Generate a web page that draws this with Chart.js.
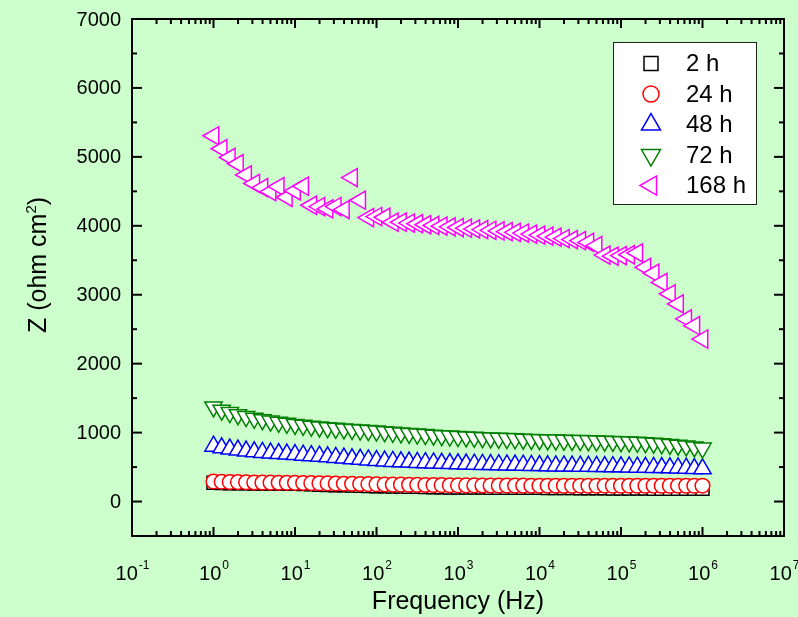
<!DOCTYPE html>
<html>
<head>
<meta charset="utf-8">
<script src="https://cdn.jsdelivr.net/npm/chart.js@4/dist/chart.umd.min.js"></script>
<style>
  html, body { margin: 0; padding: 0; background: #CCFFCC; }
  #wrap { width: 798px; height: 617px; }
</style>
</head>
<body>
<div id="wrap"><canvas id="c" width="798" height="617"></canvas></div>
<script>
// Measurement frequencies (Hz), 10 points per decade from 1 Hz to 1 MHz
const frequency = [
  1, 1.259, 1.585, 1.995, 2.512, 3.162, 3.981, 5.012, 6.310, 7.943,
  10, 12.59, 15.85, 19.95, 25.12, 31.62, 39.81, 50.12, 63.10, 79.43,
  100, 125.9, 158.5, 199.5, 251.2, 316.2, 398.1, 501.2, 631.0, 794.3,
  1000, 1259, 1585, 1995, 2512, 3162, 3981, 5012, 6310, 7943,
  10000, 12590, 15850, 19950, 25120, 31620, 39810, 50120, 63100, 79430,
  100000, 125900, 158500, 199500, 251200, 316200, 398100, 501200, 631000, 794300,
  1000000
];

// Impedance modulus Z (ohm cm2) after each immersion time
const z2h = [
  271, 268, 266, 265, 264, 263, 262, 261, 260, 258,
  257, 253, 249, 245, 241, 238, 235, 232, 229, 226,
  223, 221, 219, 217, 215, 213, 211, 209, 207, 205,
  203, 203, 202, 202, 201, 201, 200, 200, 200, 199,
  199, 198, 197, 196, 195, 194, 193, 192, 191, 190,
  189, 189, 188, 188, 187, 187, 186, 186, 185, 185,
  184
];
const z24h = [
  290, 286, 283, 281, 279, 277, 276, 274, 273, 272,
  271, 269, 267, 265, 263, 261, 259, 257, 255, 252,
  250, 248, 246, 245, 243, 242, 240, 239, 238, 236,
  235, 234, 234, 233, 233, 232, 232, 231, 231, 230,
  230, 230, 230, 229, 229, 230, 229, 229, 230, 229,
  229, 230, 229, 229, 230, 229, 229, 230, 229, 229,
  230
];
const z48h = [
  802, 780, 762, 746, 733, 722, 712, 703, 695, 688,
  681, 673, 665, 657, 649, 640, 630, 620, 612, 603,
  594, 588, 582, 577, 572, 567, 563, 559, 555, 551,
  547, 544, 541, 539, 536, 534, 531, 529, 527, 524,
  521, 519, 517, 516, 514, 512, 511, 509, 507, 505,
  503, 501, 499, 497, 495, 493, 490, 487, 484, 479,
  474
];
const z72h = [
  1373, 1325, 1290, 1260, 1232, 1208, 1187, 1168, 1150, 1134,
  1118, 1105, 1093, 1082, 1072, 1062, 1053, 1045, 1037, 1029,
  1022, 1013, 1004, 995, 987, 979, 971, 963, 956, 949,
  942, 937, 932, 927, 922, 917, 913, 909, 905, 901,
  897, 894, 891, 888, 886, 884, 881, 878, 875, 872,
  868, 864, 859, 853, 846, 838, 829, 818, 806, 792,
  776
];
const z168h = [
  5306, 5118, 4992, 4900, 4738, 4615, 4554, 4496, 4569, 4414,
  4506, 4574, 4298, 4279, 4245, 4279, 4235, 4699, 4371, 4119,
  4134, 4124, 4052, 4052, 4040, 4030, 4015, 4005, 3995, 3985,
  3975, 3965, 3955, 3945, 3935, 3925, 3915, 3905, 3895, 3880,
  3865, 3850, 3835, 3815, 3800, 3784, 3759, 3711, 3575, 3560,
  3568, 3580, 3607, 3397, 3312, 3179, 3012, 2867, 2650, 2551,
  2357
];

const seriesLabels = ['2 h', '24 h', '48 h', '72 h', '168 h'];
const yTickValues = [0, 1000, 2000, 3000, 4000, 5000, 6000, 7000];
const xDecades = [-1, 0, 1, 2, 3, 4, 5, 6, 7];

const FONT = '"Liberation Sans", Arial, Helvetica, sans-serif';
const BG = '#CCFFCC';

const styles = [
  { style: 'rect',     rot: 0,   r: 9.2,  color: '#000000' },
  { style: 'circle',   rot: 0,   r: 7.3,  color: '#FF0000' },
  { style: 'triangle', rot: 0,   r: 10,   color: '#0000FF' },
  { style: 'triangle', rot: 180, r: 10,   color: '#008000' },
  { style: 'triangle', rot: 270, r: 10.5, color: '#FF00FF' }
];
const seriesValues = [z2h, z24h, z48h, z72h, z168h];

const datasets = seriesValues.map((vals, k) => ({
  label: seriesLabels[k],
  data: frequency.map((f, i) => ({ x: f, y: vals[i] })),
  showLine: false,
  pointStyle: styles[k].style,
  pointRotation: styles[k].rot,
  pointRadius: styles[k].r,
  pointBorderColor: styles[k].color,
  pointBackgroundColor: '#FFFFFF',
  pointBorderWidth: 1.5,
  order: 5 - k
}));

function drawMarker(ctx, s, x, y) {
  ctx.beginPath();
  if (s.style === 'rect') {
    const h = 7;
    ctx.rect(x - h, y - h, 2 * h, 2 * h);
  } else if (s.style === 'circle') {
    ctx.arc(x, y, 8, 0, Math.PI * 2);
  } else {
    let rad = s.rot * Math.PI / 180;
    const r = 11;
    ctx.moveTo(x + Math.sin(rad) * r, y - Math.cos(rad) * r);
    rad += 2 * Math.PI / 3;
    ctx.lineTo(x + Math.sin(rad) * r, y - Math.cos(rad) * r);
    rad += 2 * Math.PI / 3;
    ctx.lineTo(x + Math.sin(rad) * r, y - Math.cos(rad) * r);
    ctx.closePath();
  }
  ctx.fillStyle = '#FFFFFF';
  ctx.fill();
  ctx.lineWidth = 1.5;
  ctx.strokeStyle = s.color;
  ctx.stroke();
}

function line(ctx, x1, y1, x2, y2) {
  ctx.beginPath();
  ctx.moveTo(x1, y1);
  ctx.lineTo(x2, y2);
  ctx.stroke();
}

const background = {
  id: 'background',
  beforeDraw(chart) {
    const ctx = chart.ctx;
    ctx.save();
    ctx.fillStyle = BG;
    ctx.fillRect(0, 0, chart.width, chart.height);
    ctx.restore();
  }
};

const axesFrame = {
  id: 'axesFrame',
  afterDatasetsDraw(chart) {
    const ctx = chart.ctx;
    const a = chart.chartArea;
    const xs = chart.scales.x, ys = chart.scales.y;
    ctx.save();
    ctx.strokeStyle = '#000';
    ctx.lineWidth = 2;
    ctx.lineCap = 'butt';

    // frame
    ctx.strokeRect(a.left, a.top, a.right - a.left, a.bottom - a.top);

    // y ticks (inward, mirrored on right)
    for (let k = 0; k < yTickValues.length; k++) {
      const v = yTickValues[k];
      const y = ys.getPixelForValue(v);
      line(ctx, a.left, y, a.left + 10, y);
      line(ctx, a.right, y, a.right - 10, y);
      if (k < yTickValues.length - 1) {
        const ym = ys.getPixelForValue((v + yTickValues[k + 1]) / 2);
        line(ctx, a.left, ym, a.left + 5, ym);
        line(ctx, a.right, ym, a.right - 5, ym);
      }
    }

    // x ticks (inward, mirrored on top), log decades with 2..9 minors
    for (let d = 0; d < xDecades.length; d++) {
      const base = Math.pow(10, xDecades[d]);
      const x = xs.getPixelForValue(base);
      line(ctx, x, a.bottom, x, a.bottom - 9);
      line(ctx, x, a.top, x, a.top + 9);
      if (d < xDecades.length - 1) {
        for (let m = 2; m <= 9; m++) {
          const xm = xs.getPixelForValue(base * m);
          line(ctx, xm, a.bottom, xm, a.bottom - 5);
          line(ctx, xm, a.top, xm, a.top + 5);
        }
      }
    }

    // y tick labels
    ctx.fillStyle = '#000';
    ctx.font = '20px ' + FONT;
    ctx.textAlign = 'right';
    ctx.textBaseline = 'middle';
    for (const v of yTickValues) {
      ctx.fillText(String(v), a.left - 11, ys.getPixelForValue(v) + 1);
    }

    // x tick labels: 10 with superscript exponent
    ctx.textAlign = 'left';
    ctx.textBaseline = 'alphabetic';
    for (const e of xDecades) {
      const x = xs.getPixelForValue(Math.pow(10, e));
      ctx.font = '20px ' + FONT;
      const wb = ctx.measureText('10').width;
      ctx.font = '12px ' + FONT;
      const es = String(e);
      const we = ctx.measureText(es).width;
      const x0 = x - (wb + we) / 2;
      ctx.font = '20px ' + FONT;
      ctx.fillText('10', x0, 580);
      ctx.font = '12px ' + FONT;
      ctx.fillText(es, x0 + wb + 1, 569);
    }

    // x axis title
    ctx.font = '25px ' + FONT;
    ctx.textAlign = 'center';
    ctx.fillText('Frequency (Hz)', (a.left + a.right) / 2, 609);

    // y axis title, rotated, with superscript 2
    ctx.save();
    ctx.translate(46, 265);
    ctx.rotate(-Math.PI / 2);
    ctx.textAlign = 'left';
    ctx.font = '25px ' + FONT;
    const t1 = 'Z (ohm cm', t3 = ')';
    const w1 = ctx.measureText(t1).width, w3 = ctx.measureText(t3).width;
    ctx.font = '15px ' + FONT;
    const w2 = ctx.measureText('2').width;
    let tx = -(w1 + w2 + w3) / 2;
    ctx.font = '25px ' + FONT;
    ctx.fillText(t1, tx, 0);
    ctx.font = '15px ' + FONT;
    ctx.fillText('2', tx + w1, -10);
    ctx.font = '25px ' + FONT;
    ctx.fillText(t3, tx + w1 + w2, 0);
    ctx.restore();

    // legend
    const lx = 613.5, ly = 42.5, lw = 143, lh = 162;
    ctx.fillStyle = '#FFFFFF';
    ctx.fillRect(lx, ly, lw, lh);
    ctx.lineWidth = 1;
    ctx.strokeStyle = '#222';
    ctx.strokeRect(lx, ly, lw, lh);
    for (let k = 0; k < seriesLabels.length; k++) {
      const y = 63.5 + k * 30.5;
      drawMarker(ctx, styles[k], 651, y);
      ctx.fillStyle = '#000';
      ctx.font = '24px ' + FONT;
      ctx.textAlign = 'left';
      ctx.textBaseline = 'middle';
      ctx.fillText(seriesLabels[k], 686, y + 1);
    }
    ctx.restore();
  }
};

new Chart(document.getElementById('c'), {
  type: 'scatter',
  data: { datasets },
  options: {
    responsive: false,
    devicePixelRatio: 1,
    animation: false,
    events: [],
    layout: { padding: { left: 132, top: 19, right: 14, bottom: 81 } },
    scales: {
      x: { type: 'logarithmic', min: 0.1, max: 1e7, display: false },
      y: { type: 'linear', min: -500, max: 7000, display: false }
    },
    plugins: { legend: { display: false }, tooltip: { enabled: false } }
  },
  plugins: [background, axesFrame]
});
</script>
</body>
</html>
